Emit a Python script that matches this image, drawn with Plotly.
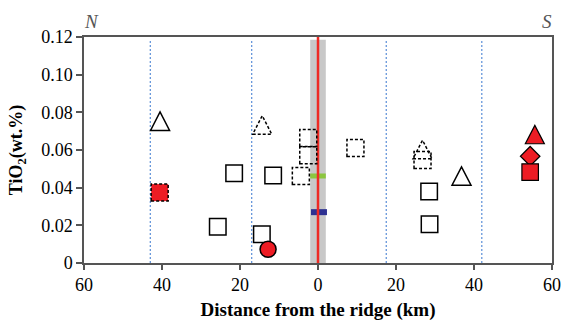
import plotly.graph_objects as go

# ---- data (distance: negative = N side, positive = S side) ----
open_sq_x = [-21.5, -11.5, -25.7, -14.4, 28.5, 28.6]
open_sq_y = [0.0476, 0.0464, 0.0193, 0.0152, 0.0380, 0.0206]

dash_sq_x = [-2.5, -2.5, -4.4, 9.6, 26.8]
dash_sq_y = [0.0664, 0.0572, 0.0462, 0.0611, 0.0547]

open_tri_x = [-40.5, 36.8]
open_tri_y = [0.0753, 0.0462]

dash_tri_x = [-14.3, 26.8]
dash_tri_y = [0.0733, 0.0603]

red_dsq_x = [-40.6]
red_dsq_y = [0.0374]

red_circ_x = [-12.8]
red_circ_y = [0.0073]

red_tri_x = [55.6]
red_tri_y = [0.0682]

red_dia_x = [54.4]
red_dia_y = [0.0567]

red_sq_x = [54.4]
red_sq_y = [0.0483]

ridge_band = [-2.0, 2.0]
green_bar_x = [-2.0, 2.0]
green_bar_y = 0.0462
blue_bar_x = [-1.8, 2.3]
blue_bar_y = 0.0270
boundary_x = [-43.0, -17.0, 17.5, 42.0]

xtick_vals = [-60, -40, -20, 0, 20, 40, 60]
xtick_text = ["60", "40", "20", "0", "20", "40", "60"]
ytick_vals = [0, 0.02, 0.04, 0.06, 0.08, 0.10, 0.12]
ytick_text = ["0", "0.02", "0.04", "0.06", "0.08", "0.10", "0.12"]

RED = "#ED1C24"
FONT = "Liberation Serif"

fig = go.Figure()

shapes = []
# grey ridge band
shapes.append(dict(type="rect", xref="x", yref="y", x0=ridge_band[0], x1=ridge_band[1],
                   y0=0, y1=0.1185, fillcolor="#C8C8C8", line=dict(width=0), layer="below"))
# boundary dotted lines
for bx in boundary_x:
    shapes.append(dict(type="line", xref="x", yref="y", x0=bx, x1=bx, y0=0, y1=0.119,
                       line=dict(color="#5A8ED8", width=1.2, dash="2px,2px"), layer="below"))
# green and blue bars
shapes.append(dict(type="line", xref="x", yref="y", x0=green_bar_x[0], x1=green_bar_x[1],
                   y0=green_bar_y, y1=green_bar_y, line=dict(color="#8CC63F", width=5), layer="below"))
shapes.append(dict(type="line", xref="x", yref="y", x0=blue_bar_x[0], x1=blue_bar_x[1],
                   y0=blue_bar_y, y1=blue_bar_y, line=dict(color="#2E3192", width=6), layer="below"))
# red ridge axis line
shapes.append(dict(type="line", xref="x", yref="y", x0=0, x1=0, y0=0, y1=0.12,
                   line=dict(color="#EE2A24", width=2.5), layer="below"))

DASH = "3px,2px"
SQ = 8.5
# dashed squares
for xv, yv in zip(dash_sq_x, dash_sq_y):
    shapes.append(dict(type="rect", xref="x", yref="y", xsizemode="pixel", ysizemode="pixel",
                       xanchor=xv, yanchor=yv, x0=-SQ, x1=SQ, y0=-SQ, y1=SQ,
                       line=dict(color="black", width=1.5, dash=DASH)))
# red square with dotted border
for xv, yv in zip(red_dsq_x, red_dsq_y):
    shapes.append(dict(type="rect", xref="x", yref="y", xsizemode="pixel", ysizemode="pixel",
                       xanchor=xv, yanchor=yv, x0=-SQ, x1=SQ, y0=-SQ, y1=SQ, fillcolor=RED,
                       line=dict(color="black", width=1.5, dash=DASH)))

TRI = "M -9.5 -9.2 L 9.5 -9.2 L 0 9.2 Z"
for xv, yv in zip(open_tri_x, open_tri_y):
    shapes.append(dict(type="path", xref="x", yref="y", xsizemode="pixel", ysizemode="pixel",
                       xanchor=xv, yanchor=yv, path=TRI, line=dict(color="black", width=1.5)))
for xv, yv in zip(dash_tri_x, dash_tri_y):
    shapes.append(dict(type="path", xref="x", yref="y", xsizemode="pixel", ysizemode="pixel",
                       xanchor=xv, yanchor=yv, path=TRI, line=dict(color="black", width=1.5, dash=DASH)))
for xv, yv in zip(red_tri_x, red_tri_y):
    shapes.append(dict(type="path", xref="x", yref="y", xsizemode="pixel", ysizemode="pixel",
                       xanchor=xv, yanchor=yv, path=TRI, fillcolor=RED, line=dict(color="black", width=1.2)))

# traces
def inv(x, y, name):
    fig.add_trace(go.Scatter(x=x, y=y, mode="markers", name=name,
                             marker=dict(size=16, opacity=0), showlegend=False))

inv(dash_sq_x, dash_sq_y, "dashed squares")
inv(red_dsq_x, red_dsq_y, "red dotted square")
inv(open_tri_x, open_tri_y, "open triangles")
inv(dash_tri_x, dash_tri_y, "dashed triangles")
inv(red_tri_x, red_tri_y, "red triangle")

fig.add_trace(go.Scatter(x=open_sq_x, y=open_sq_y, mode="markers", showlegend=False, cliponaxis=False,
                         marker=dict(symbol="square-open", size=16.5, color="black", line=dict(width=1.5))))
fig.add_trace(go.Scatter(x=red_circ_x, y=red_circ_y, mode="markers", showlegend=False, cliponaxis=False,
                         marker=dict(symbol="circle", size=16, color=RED, line=dict(color="black", width=1.5))))
fig.add_trace(go.Scatter(x=red_dia_x, y=red_dia_y, mode="markers", showlegend=False, cliponaxis=False,
                         marker=dict(symbol="diamond", size=15, color=RED, line=dict(color="black", width=1.2))))
fig.add_trace(go.Scatter(x=red_sq_x, y=red_sq_y, mode="markers", showlegend=False, cliponaxis=False,
                         marker=dict(symbol="square", size=16.5, color=RED, line=dict(color="black", width=1.2))))

fig.update_layout(
    width=565, height=322,
    margin=dict(l=84, r=13, t=37, b=59),
    paper_bgcolor="white", plot_bgcolor="white",
    font=dict(family=FONT, color="black", size=18),
    shapes=shapes,
    showlegend=False,
    annotations=[
        dict(text="<i>N</i>", xref="paper", yref="paper", x=0.0, y=1.0, xanchor="left",
             yanchor="bottom", showarrow=False, font=dict(family=FONT, size=19, color="#555"), xshift=-2, yshift=3),
        dict(text="<i>S</i>", xref="paper", yref="paper", x=1.0, y=1.0, xanchor="right",
             yanchor="bottom", showarrow=False, font=dict(family=FONT, size=19, color="#555"), xshift=2, yshift=3),
    ],
)
fig.update_xaxes(range=[-60, 60], tickvals=xtick_vals, ticktext=xtick_text, automargin=False,
                 showgrid=False, zeroline=False, showline=True, linecolor="#555", linewidth=1.5,
                 mirror=True, ticks="outside", ticklen=5, tickwidth=1.5, tickcolor="#555",
                 tickfont=dict(family=FONT, size=18),
                 title=dict(text="<b>Distance from the ridge (km)</b>", font=dict(family=FONT, size=19), standoff=8))
fig.update_yaxes(range=[0, 0.12], tickvals=ytick_vals, ticktext=ytick_text, automargin=False,
                 showgrid=False, zeroline=False, showline=True, linecolor="#555", linewidth=1.5,
                 mirror=True, ticks="outside", ticklen=6, tickwidth=1.5, tickcolor="#555",
                 tickfont=dict(family=FONT, size=18),
                 title=dict(text="<b>TiO<sub>2</sub>(wt.%)</b>", font=dict(family=FONT, size=18), standoff=14))

fig.write_html("out.html", config={"displayModeBar": False},
               post_script="document.body.style.margin='0';document.body.style.padding='0';")
